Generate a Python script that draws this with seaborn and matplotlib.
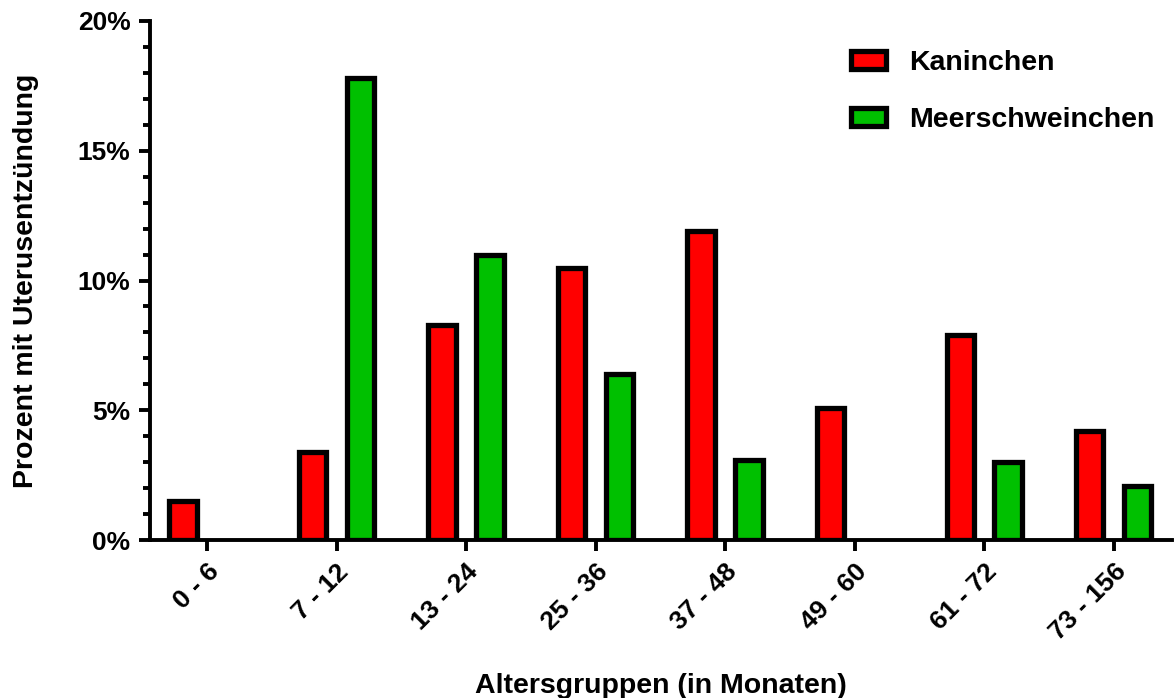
import numpy as np
import pandas as pd
import seaborn as sns
import matplotlib.pyplot as plt
from matplotlib.ticker import MultipleLocator, FuncFormatter

gruppen = ['0 - 6', '7 - 12', '13 - 24', '25 - 36', '37 - 48', '49 - 60', '61 - 72', '73 - 156']
kaninchen = [1.5, 3.4, 8.3, 10.5, 11.9, 5.1, 7.9, 4.2]
meerschweinchen = [np.nan, 17.8, 11.0, 6.4, 3.1, np.nan, 3.0, 2.1]
tiere = ['Kaninchen', 'Meerschweinchen']
farben = ['#ff0000', '#00c000']

df = pd.DataFrame({
    'gruppe': gruppen * 2,
    'prozent': kaninchen + meerschweinchen,
    'tier': [tiere[0]] * len(gruppen) + [tiere[1]] * len(gruppen),
})

sns.set_style('ticks', {'text.color': 'black', 'axes.labelcolor': 'black',
                        'xtick.color': 'black', 'ytick.color': 'black',
                        'axes.edgecolor': 'black'})
plt.rcParams['font.family'] = ['Liberation Sans', 'DejaVu Sans']
plt.rcParams['font.weight'] = 'bold'

fig = plt.figure(figsize=(11.74, 6.98), dpi=100)
ax = fig.add_axes([150 / 1174, 158 / 698, 1022 / 1174, 519 / 698])

sns.barplot(data=df, x='gruppe', y='prozent', hue='tier', palette=farben,
            order=gruppen, hue_order=tiere, width=0.74, gap=0.43, saturation=1,
            edgecolor='black', linewidth=3.8, errorbar=None, ax=ax)

ax.set_ylim(0, 20)
ax.set_xlim(-0.44, 7.45)
ax.yaxis.set_major_locator(MultipleLocator(5))
ax.yaxis.set_minor_locator(MultipleLocator(1))
ax.yaxis.set_major_formatter(FuncFormatter(lambda v, p: f'{v:.0f}%'))

for s in ['top', 'right']:
    ax.spines[s].set_visible(False)
for s in ['left', 'bottom']:
    ax.spines[s].set_linewidth(2.8)
ax.tick_params(axis='both', which='major', width=2.8, length=8, labelsize=19, pad=6)
ax.tick_params(axis='y', which='minor', width=2.8, length=5)
plt.setp(ax.get_xticklabels(), rotation=45, ha='right', rotation_mode='anchor', fontweight='bold')
plt.setp(ax.get_yticklabels(), fontweight='bold')

ax.set_xlabel('Altersgruppen (in Monaten)', fontsize=20.5, fontweight='bold', labelpad=20)
ax.set_ylabel('Prozent mit Uterusentzündung', fontsize=20.5, fontweight='bold', labelpad=28)

ax.legend(frameon=False, loc='upper right', bbox_to_anchor=(1.008, 0.994),
          handlelength=1.25, handleheight=0.6, labelspacing=1.1, handletextpad=0.8,
          prop={'weight': 'bold', 'size': 20.5})

fig.savefig('out.png', dpi=100)
